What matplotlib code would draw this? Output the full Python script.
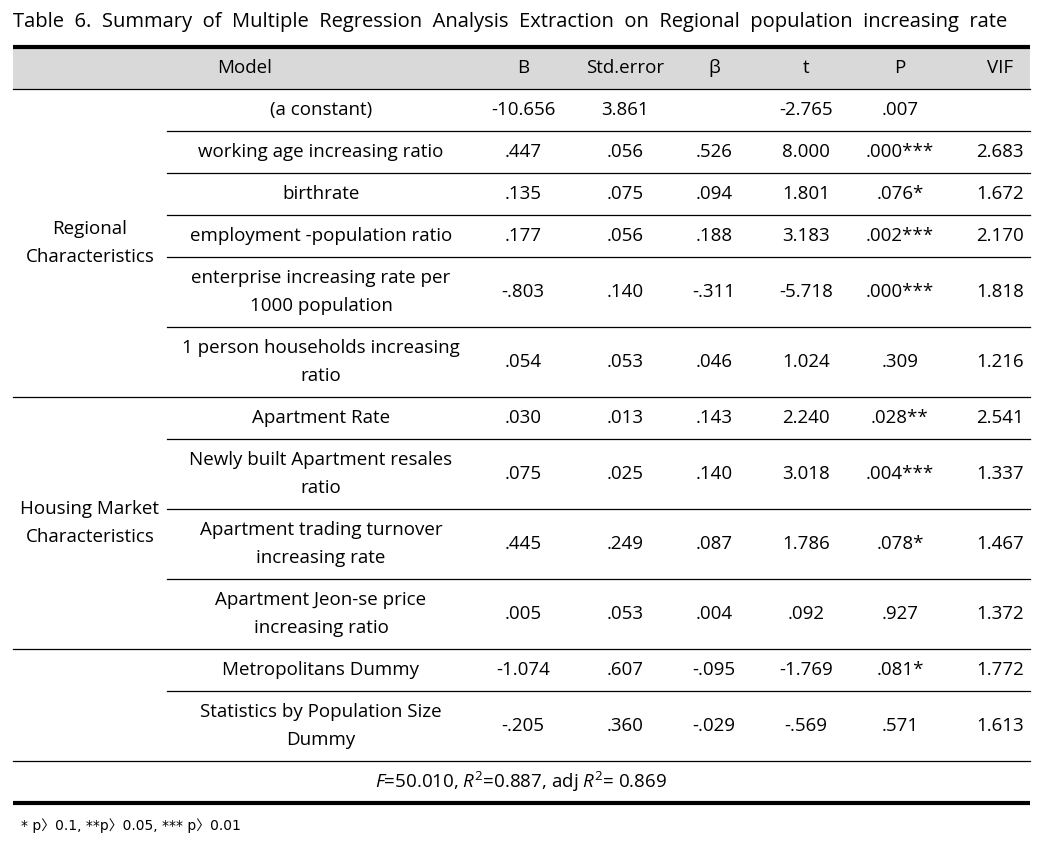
import matplotlib
matplotlib.use("Agg")
import matplotlib.pyplot as plt

plt.rcParams['font.family'] = ['Open Sans', 'Noto Sans CJK KR', 'DejaVu Sans']
plt.rcParams['mathtext.fontset'] = 'custom'
plt.rcParams['mathtext.rm'] = 'Open Sans'
plt.rcParams['mathtext.it'] = 'Open Sans:italic'

title = "Table 6. Summary of Multiple Regression Analysis Extraction on Regional population increasing rate"
columns = ["Model", "B", "Std.error", "β", "t", "P", "VIF"]
groups = ["Regional\nCharacteristics", "Housing Market\nCharacteristics", ""]
group_sizes = [6, 4, 2]
variables = [
    "(a constant)",
    "working age increasing ratio",
    "birthrate",
    "employment -population ratio",
    "enterprise increasing rate per\n1000 population",
    "1 person households increasing\nratio",
    "Apartment Rate",
    "Newly built Apartment resales\nratio",
    "Apartment trading turnover\nincreasing rate",
    "Apartment Jeon-se price\nincreasing ratio",
    "Metropolitans Dummy",
    "Statistics by Population Size\nDummy",
]
B = ["-10.656", ".447", ".135", ".177", "-.803", ".054", ".030", ".075", ".445", ".005", "-1.074", "-.205"]
SE = ["3.861", ".056", ".075", ".056", ".140", ".053", ".013", ".025", ".249", ".053", ".607", ".360"]
beta = ["", ".526", ".094", ".188", "-.311", ".046", ".143", ".140", ".087", ".004", "-.095", "-.029"]
tval = ["-2.765", "8.000", "1.801", "3.183", "-5.718", "1.024", "2.240", "3.018", "1.786", ".092", "-1.769", "-.569"]
P = [".007", ".000***", ".076*", ".002***", ".000***", ".309", ".028**", ".004***", ".078*", ".927", ".081*", ".571"]
VIF = ["", "2.683", "1.672", "2.170", "1.818", "1.216", "2.541", "1.337", "1.467", "1.372", "1.772", "1.613"]
fit_stats = r"$F$=50.010, $R^2$=0.887, adj $R^2$= 0.869"
footnote = "* p〉0.1, **p〉0.05, *** p〉0.01"

W, H = 1060, 847
fig = plt.figure(figsize=(W / 100, H / 100), dpi=100)
ax = fig.add_axes([0, 0, 1, 1])
ax.set_xlim(0, W)
ax.set_ylim(H, 0)
ax.axis('off')

FS = 13.5
x0, x1 = 13, 1030
xg = 167
col_x = [321, 523, 625, 714, 806, 900, 1000]
row1, row2 = 42, 70
line_gap = 14

# the title in the reference is set with wide word spacing
ax.text(x0, 22, "  ".join(title.split(" ")), fontsize=14.5, va='center', ha='left')

y = 47
ax.add_patch(plt.Rectangle((x0, y), x1 - x0, row1, color='#d9d9d9', lw=0))
ax.plot([x0, x1], [y, y], color='black', lw=3, solid_capstyle='butt')
for i, c in enumerate(columns):
    cx = 245 if i == 0 else col_x[i]
    ax.text(cx, y + row1 / 2, c, fontsize=FS, ha='center', va='center')
y += row1
ax.plot([x0, x1], [y, y], color='black', lw=0.9)

idx = 0
for g, n in zip(groups, group_sizes):
    gtop = y
    for k in range(n):
        lab = variables[idx]
        nl = lab.count("\n") + 1
        h = row1 if nl == 1 else row2
        cy = y + h / 2
        lines = lab.split("\n")
        for j, ln in enumerate(lines):
            ax.text(col_x[0], cy + (j - (nl - 1) / 2) * 2 * line_gap, ln,
                    fontsize=FS, ha='center', va='center')
        vals = [B[idx], SE[idx], beta[idx], tval[idx], P[idx], VIF[idx]]
        for v, cx in zip(vals, col_x[1:]):
            ax.text(cx, cy, v, fontsize=FS, ha='center', va='center')
        y += h
        if k < n - 1:
            ax.plot([xg, x1], [y, y], color='black', lw=0.9)
        idx += 1
    gl = g.split("\n")
    gc = (gtop + y) / 2
    for j, ln in enumerate(gl):
        ax.text(90, gc + (j - (len(gl) - 1) / 2) * 2 * line_gap, ln,
                fontsize=FS, ha='center', va='center')
    ax.plot([x0, x1], [y, y], color='black', lw=0.9)

ax.text((x0 + x1) / 2, y + row1 / 2, fit_stats, fontsize=FS, ha='center', va='center')
y += row1
ax.plot([x0, x1], [y, y], color='black', lw=3, solid_capstyle='butt')

ax.text(x0 + 8, y + 23, footnote, fontsize=10, ha='left', va='center',
        family=['DejaVu Sans', 'Noto Sans CJK KR'])

fig.savefig("out.png", dpi=100)
